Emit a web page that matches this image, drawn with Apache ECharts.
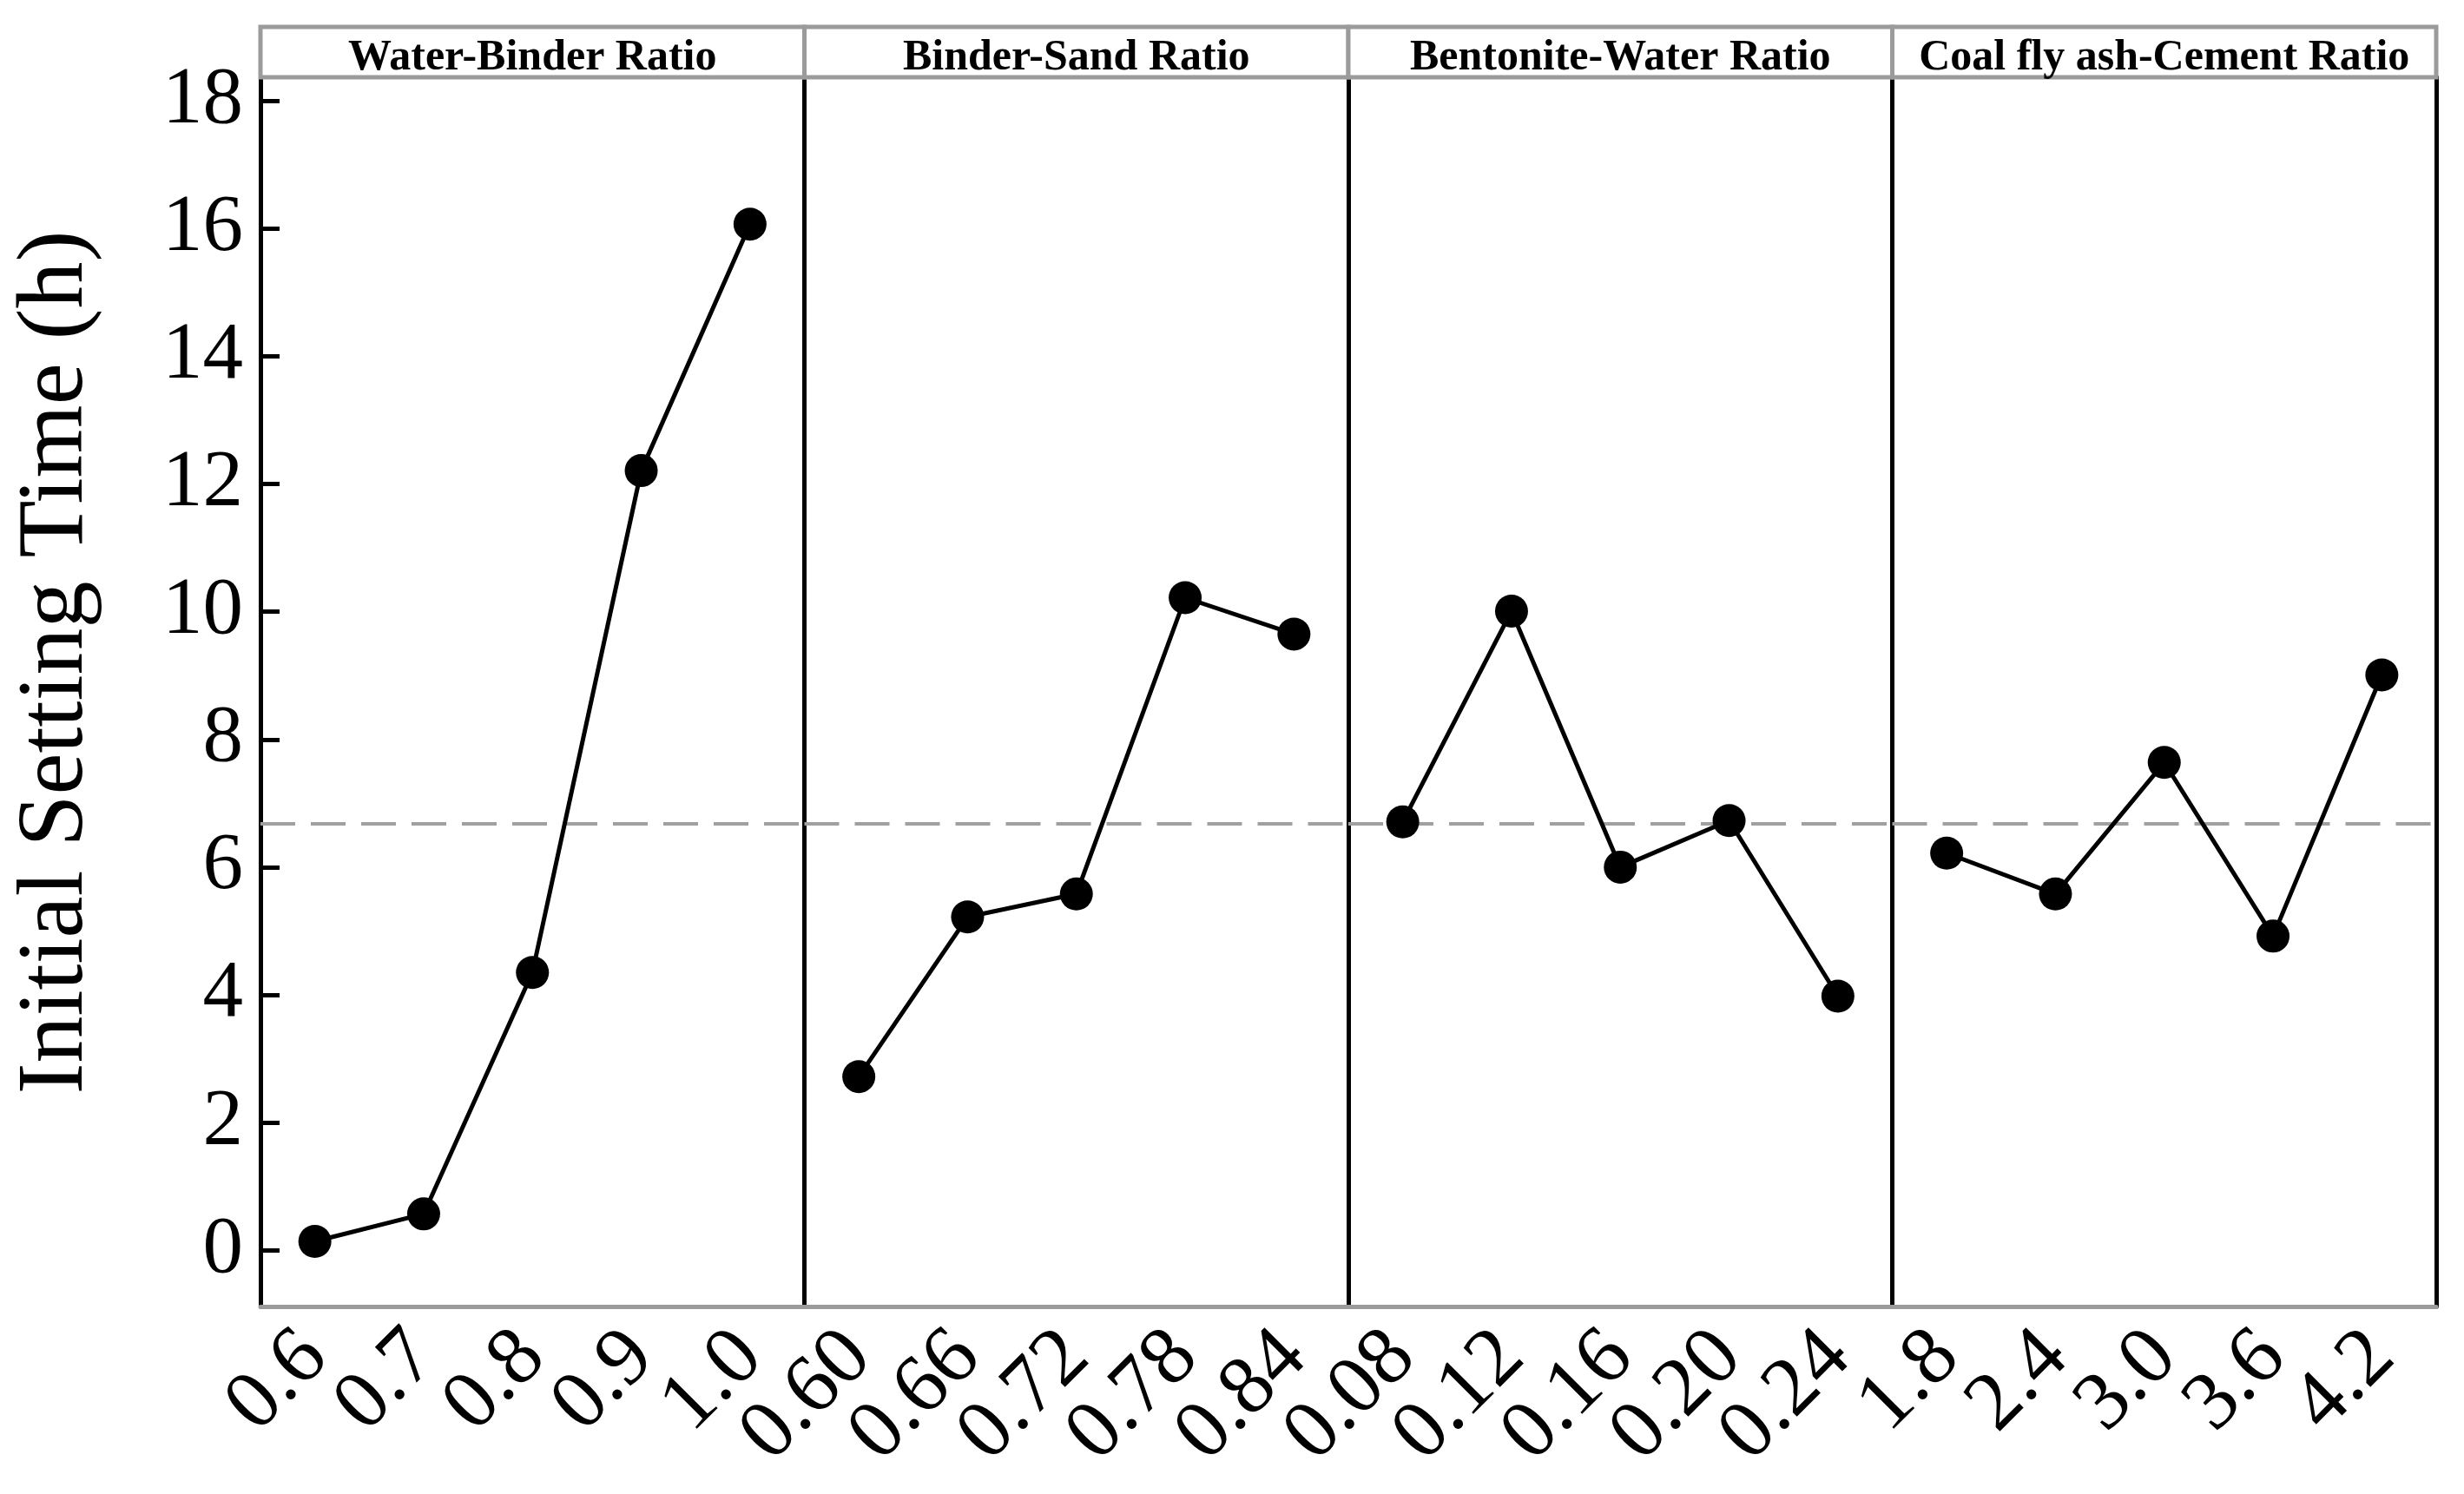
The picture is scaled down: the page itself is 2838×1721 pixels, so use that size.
<!DOCTYPE html>
<html>
<head>
<meta charset="utf-8">
<script src="https://cdn.jsdelivr.net/npm/echarts@6/dist/echarts.min.js"></script>
<style>
html,body{margin:0;padding:0;background:#fff;}
#chart{width:2838px;height:1721px;}
</style>
</head>
<body>
<div id="chart"></div>
<script>
// ---- data ----
const panelTitles = ['Water-Binder Ratio', 'Binder-Sand Ratio', 'Bentonite-Water Ratio', 'Coal fly ash-Cement Ratio'];
const wbLabels = ['0.6', '0.7', '0.8', '0.9', '1.0'];
const bsLabels = ['0.60', '0.66', '0.72', '0.78', '0.84'];
const bwLabels = ['0.08', '0.12', '0.16', '0.20', '0.24'];
const cfLabels = ['1.8', '2.4', '3.0', '3.6', '4.2'];
const wbValues = [0.14, 0.57, 4.35, 12.21, 16.07];
const bsValues = [2.72, 5.22, 5.58, 10.22, 9.65];
const bwValues = [6.71, 10.01, 6.00, 6.73, 3.98];
const cfValues = [6.22, 5.58, 7.64, 4.92, 9.01];
const yTickValues = [0, 2, 4, 6, 8, 10, 12, 14, 16, 18];
const yMin = -0.88, yMax = 18.37;
const yAxisTitle = 'Initial Setting Time (h)';

// ---- layout / style ----
const FONT = "'Times New Roman', 'Liberation Serif', serif";
const GRAY = '#9b9b9b';
const PLOT_LEFT = 300, PLOT_RIGHT = 2806, PLOT_TOP = 89, PLOT_BOTTOM = 1505;
const STRIP_TOP = 31;
const W = 2838, H = 1721;
const panelW = (PLOT_RIGHT - PLOT_LEFT) / 4;

const labelSets = [wbLabels, bsLabels, bwLabels, cfLabels];
const valueSets = [wbValues, bsValues, bwValues, cfValues];
const allVals = [].concat(...valueSets);
const grandMean = allVals.reduce((a, b) => a + b, 0) / allVals.length;

const grids = [], xAxes = [], yAxes = [], series = [], graphics = [];
for (let i = 0; i < 4; i++) {
  const left = PLOT_LEFT + i * panelW;
  grids.push({ left: left, width: panelW, top: PLOT_TOP, bottom: H - PLOT_BOTTOM, containLabel: false });
  xAxes.push({
    type: 'category', gridIndex: i, data: labelSets[i], boundaryGap: true,
    axisLine: { onZero: false, lineStyle: { color: GRAY, width: 5 } },
    axisTick: { alignWithLabel: true, length: 15, lineStyle: { color: GRAY, width: 5 } },
    axisLabel: { interval: 0, rotate: 45, fontSize: 96, fontFamily: FONT, color: '#000', margin: 44 },
    splitLine: { show: false }
  });
  const ya = {
    type: 'value', gridIndex: i, min: yMin, max: yMax,
    axisLine: { show: true, lineStyle: { color: '#000', width: 5 } },
    axisTick: { show: false },
    axisLabel: { show: false },
    splitLine: { show: false }
  };
  if (i === 0) {
    ya.axisTick = { show: true, inside: true, length: 22, customValues: yTickValues, lineStyle: { color: '#000', width: 5 } };
    ya.axisLabel = { show: true, customValues: yTickValues, fontSize: 93, fontFamily: FONT, color: '#000', margin: 20 };
    ya.name = yAxisTitle;
    ya.nameLocation = 'middle';
    ya.nameGap = 180;
    ya.nameTextStyle = { fontSize: 108, fontFamily: FONT, color: '#000', padding: [0, 0, 0, 68] };
  }
  yAxes.push(ya);
  series.push({
    type: 'line', xAxisIndex: i, yAxisIndex: i, data: valueSets[i],
    symbol: 'circle', symbolSize: 38,
    lineStyle: { color: '#000', width: 5 },
    itemStyle: { color: '#000' },
    z: 5,
    markLine: {
      silent: true, symbol: 'none', label: { show: false },
      lineStyle: { color: '#a0a0a0', width: 4, type: [40, 18] },
      data: [{ yAxis: grandMean }],
      z: 2
    }
  });
  // facet strip
  graphics.push({
    type: 'rect',
    shape: { x: left, y: STRIP_TOP, width: panelW, height: PLOT_TOP - STRIP_TOP },
    style: { fill: '#fff', stroke: GRAY, lineWidth: 5 },
    z: 1
  });
  graphics.push({
    type: 'text',
    x: left + panelW / 2, y: (STRIP_TOP + PLOT_TOP) / 2 + 7,
    style: { text: panelTitles[i], fontSize: 50, fontWeight: 'bold', fontFamily: FONT, fill: '#000', align: 'center', verticalAlign: 'middle' },
    z: 2
  });
}
// right border of last panel
yAxes.push({
  type: 'value', gridIndex: 3, position: 'right', min: yMin, max: yMax,
  axisLine: { show: true, lineStyle: { color: '#000', width: 5 } },
  axisTick: { show: false }, axisLabel: { show: false }, splitLine: { show: false }
});

const chart = echarts.init(document.getElementById('chart'), null, { renderer: 'canvas' });
chart.setOption({
  backgroundColor: '#fff',
  animation: false,
  grid: grids,
  xAxis: xAxes,
  yAxis: yAxes,
  series: series,
  graphic: graphics
});
</script>
</body>
</html>
